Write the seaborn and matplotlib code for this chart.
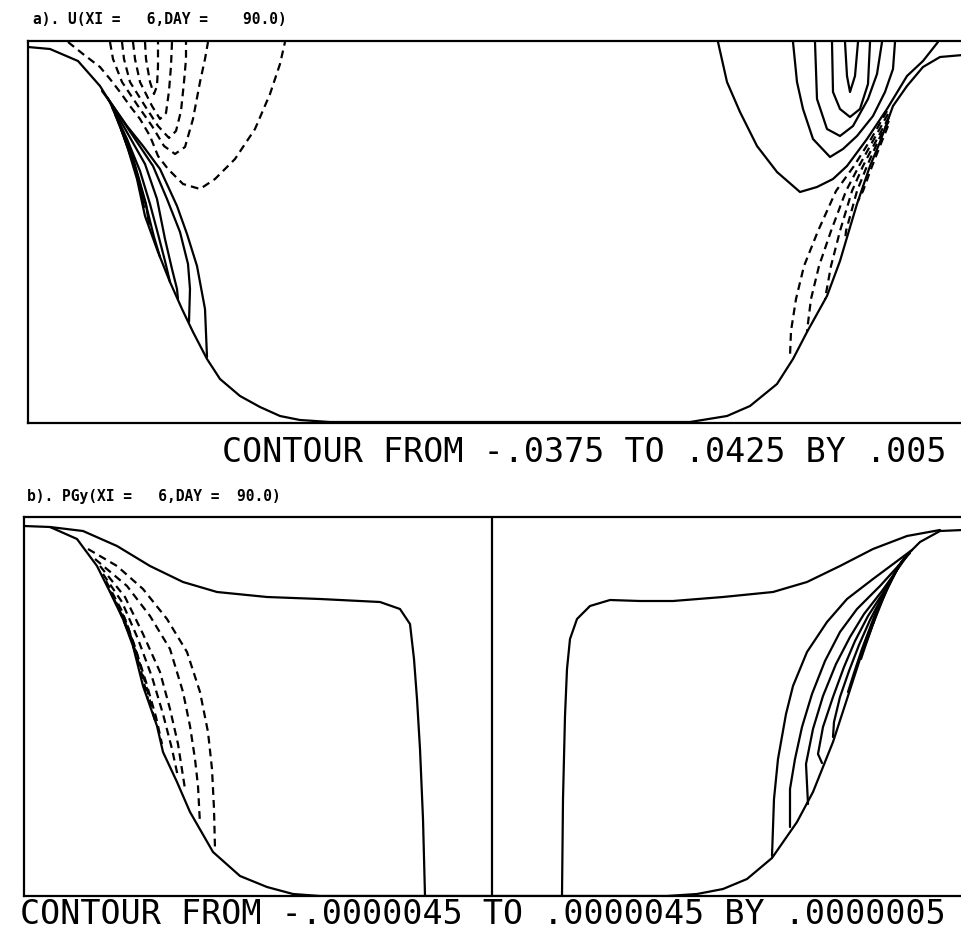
import matplotlib
matplotlib.use("Agg")
import matplotlib.pyplot as plt
import pandas as pd
import seaborn as sns

# ---------------- text ----------------
TITLE_A = "a). U(XI =   6,DAY =    90.0)"
CAPTION_A = "CONTOUR FROM -.0375 TO .0425 BY .005"
TITLE_B = "b). PGy(XI =   6,DAY =  90.0)"
CAPTION_B = "CONTOUR FROM -.0000045 TO .0000045 BY .0000005"

# ---------------- panel a : U section (x = cross-channel distance, d = depth) ----------------
A_BED_X = [0.0, 2.2, 5.0, 7.2, 8.2, 9.2, 10.0, 10.9, 11.7, 13.0, 14.2, 15.4, 16.5, 17.9, 19.2, 21.2,
           23.2, 25.2, 27.2, 30.2, 63.0, 66.2, 69.9, 72.2, 74.9, 76.5, 77.9, 79.9, 81.2, 82.0, 82.9,
           84.2, 85.2, 86.5, 87.9, 89.5, 91.2, 93.5]
A_BED_D = [0.6, 0.8, 2.0, 4.5, 6.1, 8.5, 10.8, 13.8, 17.5, 21.1, 24.1, 26.8, 29.1, 31.8, 33.8, 35.5,
           36.6, 37.5, 37.9, 38.1, 38.1, 38.1, 37.5, 36.5, 34.3, 31.8, 29.1, 25.5, 22.0, 19.3, 16.3,
           12.5, 10.1, 6.5, 4.5, 2.6, 1.6, 1.4]

# negative (dashed) cells near the left surface
A_N1_X = [4.0, 5.5, 7.2, 8.2, 9.2, 10.2, 11.2, 12.2, 13.0, 14.0, 15.5, 17.2, 18.7, 20.7, 22.7, 24.2, 25.2, 25.7]
A_N1_D = [0.1, 1.3, 2.6, 3.8, 5.1, 6.5, 7.8, 9.5, 11.5, 12.8, 14.3, 14.8, 13.8, 11.8, 8.8, 5.3, 2.3, 0.1]
A_N2_X = [8.2, 8.5, 9.4, 11.0, 12.4, 13.6, 14.7, 15.7, 16.5, 17.2, 17.7, 18.0]
A_N2_D = [0.1, 1.8, 4.1, 6.5, 8.5, 10.5, 11.3, 10.6, 7.8, 4.1, 1.8, 0.1]
A_N3_X = [9.4, 9.6, 10.2, 11.7, 13.0, 14.1, 14.8, 15.3, 15.6, 15.8, 15.8]
A_N3_D = [0.1, 1.8, 4.1, 6.5, 8.5, 9.7, 9.0, 7.0, 4.1, 1.8, 0.1]
A_N4_X = [10.5, 10.7, 11.2, 12.4, 13.2, 13.8, 14.1, 14.3, 14.4]
A_N4_D = [0.1, 1.8, 4.1, 6.5, 7.8, 7.2, 5.0, 2.5, 0.1]
A_N5_X = [11.7, 11.8, 12.2, 12.6, 12.9, 13.0, 13.0]
A_N5_D = [0.1, 1.8, 4.1, 5.3, 4.5, 2.5, 0.1]

# positive (solid) lenses along the left slope
A_P1_X = [7.4, 8.5, 9.9, 11.5, 13.2, 14.9, 15.9, 16.9, 17.7, 17.9]
A_P1_D = [5.0, 6.5, 8.5, 10.5, 12.8, 16.5, 19.3, 22.5, 26.8, 31.6]
A_P2_X = [7.9, 10.5, 12.5, 13.9, 15.2, 16.0, 16.2, 16.1]
A_P2_D = [5.6, 9.5, 12.5, 15.8, 19.1, 22.3, 24.8, 28.1]
A_P3_X = [8.0, 10.0, 11.7, 12.9, 13.7, 14.4, 14.9, 15.0]
A_P3_D = [5.8, 9.3, 12.3, 15.8, 19.8, 22.8, 24.8, 25.8]
A_P4_X = [8.4, 9.9, 11.2, 12.2, 13.0, 13.7, 14.2]
A_P4_D = [6.6, 9.8, 13.0, 16.3, 19.3, 22.0, 24.1]
A_P5_X = [8.7, 10.0, 11.0, 11.9, 12.6, 13.2]
A_P5_D = [7.3, 10.6, 13.6, 16.8, 19.6, 21.6]
A_P6_X = [9.0, 10.3, 11.1, 11.8, 12.1]
A_P6_D = [8.0, 11.0, 13.8, 16.3, 18.3]
A_P7_X = [9.3, 10.4, 11.2, 11.6]
A_P7_D = [8.8, 11.6, 14.6, 16.6]
A_P8_X = [9.6, 10.5, 11.0]
A_P8_D = [9.6, 12.2, 13.9]

# positive (solid) core near the right surface
A_Q1_X = [81.7, 81.9, 82.2, 82.7, 83.0]
A_Q1_D = [0.1, 3.5, 5.1, 3.5, 0.1]
A_Q2_X = [80.4, 80.5, 81.2, 82.2, 83.2, 84.0, 84.2]
A_Q2_D = [0.1, 5.1, 6.8, 7.6, 6.8, 4.3, 0.1]
A_Q3_X = [78.7, 78.9, 79.9, 81.2, 82.5, 84.0, 84.9, 85.4]
A_Q3_D = [0.1, 5.8, 8.8, 9.5, 8.5, 5.8, 3.3, 0.1]
A_Q4_X = [76.5, 76.9, 77.5, 78.5, 80.2, 81.5, 82.9, 84.5, 85.7, 86.5, 86.7]
A_Q4_D = [0.1, 4.1, 6.8, 9.8, 11.6, 10.8, 9.5, 7.5, 5.1, 2.8, 0.1]
A_Q5_X = [69.0, 69.9, 71.2, 72.9, 74.9, 77.2, 78.9, 80.5, 81.9, 83.9, 85.9, 87.9, 89.5, 91.0]
A_Q5_D = [0.1, 4.1, 7.1, 10.5, 13.1, 15.1, 14.6, 13.8, 12.5, 9.8, 6.8, 3.5, 2.0, 0.1]

# negative (dashed) band along the right slope
A_M1_X = [85.9, 84.3, 82.6, 80.8, 79.0, 77.6, 76.8, 76.3, 76.2]
A_M1_D = [7.0, 9.8, 12.5, 15.0, 19.0, 22.5, 25.8, 29.0, 31.5]
A_M2_X = [86.0, 84.6, 83.1, 81.8, 80.3, 79.1, 78.3, 77.9]
A_M2_D = [7.3, 9.8, 12.5, 15.0, 19.0, 22.5, 25.8, 29.0]
A_M3_X = [86.1, 84.9, 83.5, 82.4, 81.2, 80.3, 79.7]
A_M3_D = [7.6, 9.8, 12.5, 15.0, 19.0, 22.5, 25.8]
A_M4_X = [86.1, 85.1, 83.9, 82.9, 81.8, 81.7]
A_M4_D = [8.0, 9.8, 12.5, 15.0, 19.0, 20.0]
A_M5_X = [86.0, 85.2, 84.3, 83.5, 83.0]
A_M5_D = [8.5, 10.5, 12.8, 15.0, 16.0]

# ---------------- panel b : PGy section ----------------
B_BED_X = [0.0, 2.6, 5.3, 7.3, 8.6, 9.9, 10.9, 11.9, 13.3, 13.9, 15.3, 16.6, 18.9, 21.6, 24.3, 26.9,
           29.6, 64.3, 67.3, 69.9, 72.3, 74.8, 77.3, 78.9, 80.9, 82.3, 83.6, 84.9, 86.3, 87.6, 88.6,
           89.6, 91.6, 93.9]
B_BED_D = [0.9, 1.0, 2.2, 4.9, 7.5, 10.2, 12.9, 16.9, 20.9, 23.5, 26.5, 29.5, 33.5, 35.9, 37.0, 37.7,
           37.9, 37.9, 37.7, 37.2, 36.2, 34.1, 30.5, 27.5, 22.5, 18.2, 14.2, 10.7, 7.2, 4.7, 3.5,
           2.5, 1.4, 1.3]

# zero-level solid lines
B_Z1_X = [2.6, 5.9, 9.3, 12.6, 15.9, 19.3, 24.3, 29.6, 35.6, 37.6, 38.6, 39.0, 39.3, 39.6, 39.9, 40.1]
B_Z1_D = [1.0, 1.4, 2.9, 4.9, 6.5, 7.5, 8.0, 8.2, 8.5, 9.2, 10.7, 14.2, 18.2, 23.2, 30.2, 37.9]
B_Z2_X = [46.8, 46.8]
B_Z2_D = [0.0, 37.9]
B_Z3_X = [53.8, 53.9, 54.1, 54.3, 54.6, 55.3, 56.6, 58.6, 61.6, 64.9, 69.9, 74.9, 78.3, 81.6, 84.9, 88.3, 91.6]
B_Z3_D = [37.9, 28.2, 19.9, 15.2, 12.2, 10.2, 8.9, 8.3, 8.4, 8.4, 8.0, 7.5, 6.5, 4.9, 3.2, 1.9, 1.3]

# negative (dashed) band along the left slope
B_N1_X = [6.4, 9.3, 11.9, 14.3, 16.3, 17.6, 18.4, 18.8, 19.0, 19.1]
B_N1_D = [3.2, 4.9, 7.2, 10.2, 13.5, 17.5, 21.5, 25.2, 29.2, 33.2]
B_N2_X = [7.1, 10.3, 12.6, 14.6, 15.9, 16.6, 17.1, 17.4, 17.6]
B_N2_D = [4.2, 6.9, 9.9, 13.2, 17.5, 20.9, 24.2, 26.9, 30.7]
B_N3_X = [7.6, 10.1, 11.9, 13.6, 14.6, 15.4, 16.1]
B_N3_D = [4.9, 8.0, 11.7, 15.5, 19.2, 22.7, 27.2]
B_N4_X = [7.9, 9.8, 11.4, 12.8, 13.9, 14.8, 15.4]
B_N4_D = [5.7, 8.5, 12.2, 16.0, 19.7, 23.2, 26.0]
B_N5_X = [8.2, 9.8, 11.0, 12.2, 13.2, 13.8]
B_N5_D = [6.4, 9.4, 12.7, 16.5, 20.0, 22.7]
B_N6_X = [8.6, 10.2, 11.3, 12.3, 13.1]
B_N6_D = [7.4, 10.4, 13.7, 17.2, 20.4]
B_N7_X = [9.0, 10.5, 11.6, 12.4]
B_N7_D = [8.2, 11.4, 15.0, 18.2]
B_N8_X = [9.5, 10.8, 11.6]
B_N8_D = [9.2, 12.4, 15.2]
B_N9_X = [10.0, 10.6, 11.1]
B_N9_D = [10.4, 11.8, 13.5]

# positive (solid) band along the right slope
B_P1_X = [88.8, 84.9, 82.3, 80.3, 78.3, 76.9, 76.2, 75.4, 75.0, 74.8]
B_P1_D = [3.3, 6.2, 8.2, 10.5, 13.5, 16.9, 19.7, 24.2, 28.2, 33.9]
B_P2_X = [88.6, 85.6, 83.3, 81.6, 80.1, 78.8, 77.8, 77.1, 76.6, 76.6]
B_P2_D = [3.6, 6.9, 9.2, 11.5, 14.4, 17.7, 21.0, 24.2, 27.2, 31.0]
B_P3_X = [88.3, 85.8, 84.0, 82.6, 81.2, 79.9, 78.9, 78.2, 78.4]
B_P3_D = [3.9, 7.4, 9.7, 12.0, 14.7, 17.9, 21.2, 24.7, 28.7]
B_P4_X = [88.0, 85.9, 84.4, 83.1, 82.0, 80.9, 79.9, 79.4, 79.8]
B_P4_D = [4.1, 7.6, 9.9, 12.4, 15.0, 18.0, 21.0, 23.7, 24.6]
B_P5_X = [87.8, 85.9, 84.6, 83.5, 82.5, 81.6, 81.0, 80.9]
B_P5_D = [4.4, 7.8, 10.3, 12.8, 15.4, 18.0, 20.5, 22.0]
B_P6_X = [87.5, 85.7, 84.7, 83.8, 83.0, 82.4]
B_P6_D = [4.8, 8.2, 10.8, 13.2, 15.6, 17.5]
B_P7_X = [87.3, 85.6, 84.8, 84.1, 83.7]
B_P7_D = [5.2, 8.5, 11.0, 13.0, 14.2]
B_P8_X = [87.0, 85.5, 84.9]
B_P8_D = [5.8, 9.0, 10.7]


def build(lines):
    rows = []
    for name, kind, xs, ds in lines:
        for i, (x, d) in enumerate(zip(xs, ds)):
            rows.append({"x": x, "depth": d, "line": name, "kind": kind, "i": i})
    return pd.DataFrame(rows)


lines_a = [
    ("bed", "solid", A_BED_X, A_BED_D),
    ("n1", "dashed", A_N1_X, A_N1_D), ("n2", "dashed", A_N2_X, A_N2_D),
    ("n3", "dashed", A_N3_X, A_N3_D), ("n4", "dashed", A_N4_X, A_N4_D),
    ("n5", "dashed", A_N5_X, A_N5_D),
    ("p1", "solid", A_P1_X, A_P1_D), ("p2", "solid", A_P2_X, A_P2_D),
    ("p3", "solid", A_P3_X, A_P3_D), ("p4", "solid", A_P4_X, A_P4_D),
    ("p5", "solid", A_P5_X, A_P5_D), ("p6", "solid", A_P6_X, A_P6_D),
    ("p7", "solid", A_P7_X, A_P7_D), ("p8", "solid", A_P8_X, A_P8_D),
    ("q1", "solid", A_Q1_X, A_Q1_D), ("q2", "solid", A_Q2_X, A_Q2_D),
    ("q3", "solid", A_Q3_X, A_Q3_D), ("q4", "solid", A_Q4_X, A_Q4_D),
    ("q5", "solid", A_Q5_X, A_Q5_D),
    ("m1", "dashed", A_M1_X, A_M1_D), ("m2", "dashed", A_M2_X, A_M2_D),
    ("m3", "dashed", A_M3_X, A_M3_D), ("m4", "dashed", A_M4_X, A_M4_D),
    ("m5", "dashed", A_M5_X, A_M5_D),
]
lines_b = [
    ("bed", "solid", B_BED_X, B_BED_D),
    ("z1", "solid", B_Z1_X, B_Z1_D), ("z2", "solid", B_Z2_X, B_Z2_D),
    ("z3", "solid", B_Z3_X, B_Z3_D),
    ("n1", "dashed", B_N1_X, B_N1_D), ("n2", "dashed", B_N2_X, B_N2_D),
    ("n3", "dashed", B_N3_X, B_N3_D), ("n4", "dashed", B_N4_X, B_N4_D),
    ("n5", "dashed", B_N5_X, B_N5_D), ("n6", "dashed", B_N6_X, B_N6_D),
    ("n7", "dashed", B_N7_X, B_N7_D), ("n8", "dashed", B_N8_X, B_N8_D),
    ("n9", "dashed", B_N9_X, B_N9_D),
    ("p1", "solid", B_P1_X, B_P1_D), ("p2", "solid", B_P2_X, B_P2_D),
    ("p3", "solid", B_P3_X, B_P3_D), ("p4", "solid", B_P4_X, B_P4_D),
    ("p5", "solid", B_P5_X, B_P5_D), ("p6", "solid", B_P6_X, B_P6_D),
    ("p7", "solid", B_P7_X, B_P7_D), ("p8", "solid", B_P8_X, B_P8_D),
]

sns.set_style("white")
plt.rcParams["font.family"] = ["DejaVu Sans Mono", "DejaVu Sans"]
plt.rcParams["text.color"] = "black"

fig = plt.figure(figsize=(9.61, 9.45), dpi=100)
ax_a = fig.add_axes([28 / 961, 1 - 424 / 945, 935 / 961, 382 / 945])
ax_b = fig.add_axes([24 / 961, 1 - 897 / 945, 939 / 961, 379 / 945])


def draw(ax, lines, xmax, dmax):
    df = build(lines)
    sns.lineplot(data=df, x="x", y="depth", units="line", estimator=None, sort=False,
                 style="kind", style_order=["solid", "dashed"],
                 dashes={"solid": "", "dashed": (3.5, 2.3)},
                 color="black", linewidth=1.6, legend=False, ax=ax)
    ax.set_xlim(0, xmax)
    ax.set_ylim(dmax, 0)
    ax.set_xticks([])
    ax.set_yticks([])
    ax.set_xlabel("")
    ax.set_ylabel("")
    for s in ax.spines.values():
        s.set_visible(True)
        s.set_color("black")
        s.set_linewidth(1.6)


draw(ax_a, lines_a, 93.5, 38.2)
draw(ax_b, lines_b, 93.9, 37.9)

fig.text(33 / 961, 1 - 20 / 945, TITLE_A, fontsize=10.5, fontweight="bold",
         color="black", ha="left", va="center")
fig.text(946 / 961, 1 - 453 / 945, CAPTION_A, fontsize=24, color="black",
         ha="right", va="center")
fig.text(27 / 961, 1 - 497 / 945, TITLE_B, fontsize=10.5, fontweight="bold",
         color="black", ha="left", va="center")
fig.text(946 / 961, 1 - 915 / 945, CAPTION_B, fontsize=24, color="black",
         ha="right", va="center")

fig.savefig("out.png", dpi=100, facecolor="white")
